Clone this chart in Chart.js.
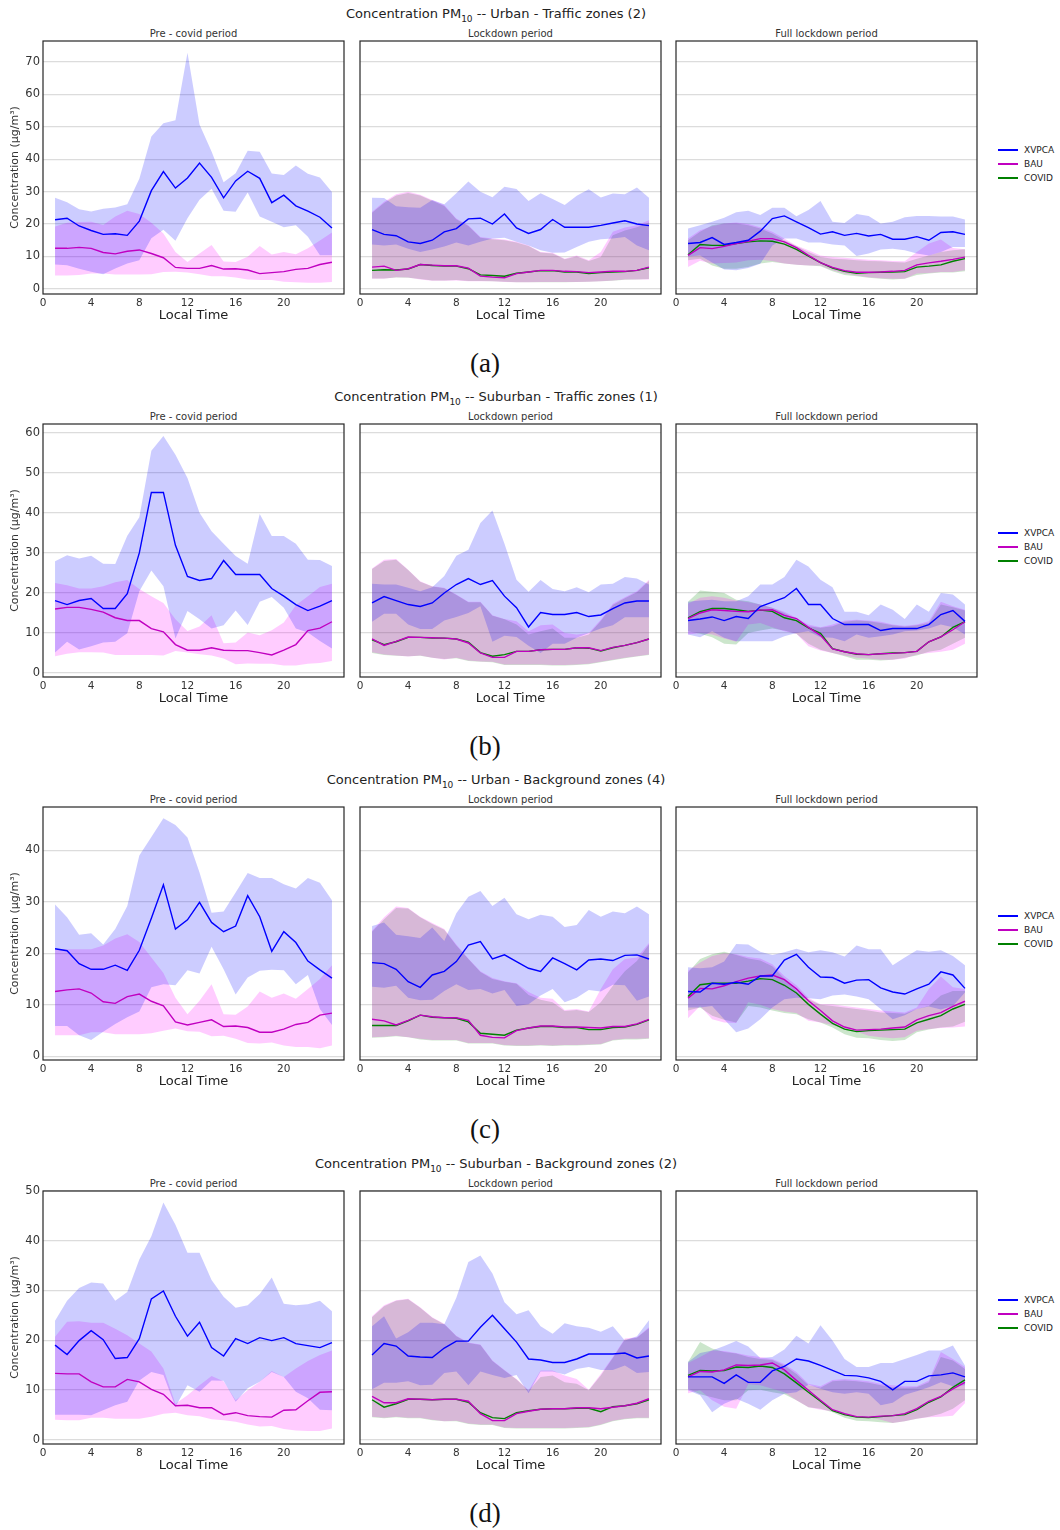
<!DOCTYPE html>
<html>
<head>
<meta charset="utf-8">
<script src="https://cdn.jsdelivr.net/npm/chart.js@4.4.1/dist/chart.umd.min.js"></script>
<style>
  body { margin: 0; background: #fff; font-family: "DejaVu Sans", sans-serif; }
  #fig { position: relative; width: 1060px; height: 1530px; overflow: hidden; background: #fff; }
  #fig canvas { position: absolute; }
  .txt { position: absolute; white-space: nowrap; transform: translate(-50%, -50%); }
  .rowtitle { font-size: 13px; color: #222; }
  .rowtitle sub { font-size: 9px; }
  .subtitle { font-size: 10px; color: #333; }
  .letter { font-family: "Liberation Serif", "DejaVu Serif", serif; font-size: 27px; color: #111; }
  .lg-line { position: absolute; width: 20px; height: 1.5px; }
  .lg-text { position: absolute; font-size: 9px; color: #222; transform: translateY(-50%); }
</style>
</head>
<body>
<div id="fig"></div>
<script>
// hours of the day and axis ticks
const hours = [1,2,3,4,5,6,7,8,9,10,11,12,13,14,15,16,17,18,19,20,21,22,23,24];
const xTicks = [0,4,8,12,16,20];
const yTicksA = [0,10,20,30,40,50,60,70];
const yTicksB = [0,10,20,30,40,50,60];
const yTicksC = [0,10,20,30,40];
const yTicksD = [0,10,20,30,40,50];

// (a) Urban - Traffic zones
const aPre_xvpca    = [21.3,21.8,19.4,18.0,16.8,17.0,16.5,20.9,30.3,36.2,31.1,34.2,38.8,34.4,28.1,33.3,36.3,34.1,26.6,28.9,25.6,24.0,22.1,18.8];
const aPre_xvpcaMax = [28.1,26.7,24.6,23.9,24.7,25.1,26.1,34.0,47.0,51.1,52.0,72.9,50.7,42.4,32.9,35.7,42.6,42.3,35.6,35.1,38.1,35.5,34.4,29.9];
const aPre_xvpcaMin = [7.5,7.3,6.2,5.3,4.5,6.3,7.8,8.8,15.6,18.2,14.8,21.8,27.5,30.9,24.1,23.8,29.7,22.3,20.7,19.0,19.6,16.1,10.4,10.4];
const aPre_bau      = [12.5,12.5,12.8,12.5,11.2,10.8,11.6,12.0,10.9,9.6,6.6,6.3,6.3,7.2,6.1,6.2,5.8,4.7,5.0,5.3,6.0,6.3,7.5,8.2];
const aPre_bauMax   = [19.2,20.4,20.6,20.7,19.7,22.3,24.1,23.1,20.4,17.1,11.4,8.3,10.9,13.5,8.4,8.3,9.9,13.2,10.6,11.4,10.7,12.5,14.9,17.4];
const aPre_bauMin   = [4.1,4.1,4.3,4.7,4.7,4.4,4.4,4.4,4.5,5.2,5.3,5.0,4.5,3.9,3.9,3.5,2.9,2.7,2.7,2.2,2.0,1.9,1.9,2.1];

const aLd_xvpca     = [18.3,16.8,16.4,14.5,14.0,15.0,17.6,18.6,21.6,21.8,20.0,23.1,18.8,17.1,18.3,21.4,19.0,19.0,19.0,19.6,20.3,21.0,20.0,19.5];
const aLd_xvpcaMax  = [28.1,28.0,25.5,25.2,25.0,27.4,26.1,29.5,33.1,30.0,28.3,31.5,30.8,27.1,29.5,27.7,25.9,28.7,30.7,28.2,29.4,29.2,31.3,28.1];
const aLd_xvpcaMin  = [13.7,13.4,13.7,12.4,11.4,12.1,13.1,14.3,13.4,14.5,15.5,15.8,14.5,13.4,11.9,11.1,11.2,12.9,14.5,15.3,15.5,16.0,13.4,11.9];
const aLd_bau       = [6.7,7.0,5.7,6.2,7.5,7.3,7.1,7.1,6.4,3.9,3.6,3.4,4.7,5.2,5.7,5.7,5.4,5.3,5.0,5.2,5.4,5.4,5.7,6.7];
const aLd_bauMax    = [23.8,26.9,29.2,30.0,29.0,27.4,25.9,21.7,19.6,16.0,15.5,15.2,14.5,13.4,11.4,11.1,9.3,10.3,8.8,11.4,17.6,18.9,19.6,21.2];
const aLd_bauMin    = [3.1,3.1,3.6,3.5,2.9,2.5,2.5,2.6,2.3,2.3,2.3,2.1,2.0,2.0,2.1,2.1,2.1,2.1,2.2,2.3,2.6,2.9,2.9,2.9];
const aLd_covid     = [5.7,5.9,5.8,6.1,7.5,7.2,7.0,7.0,6.2,4.3,4.1,3.9,4.8,5.2,5.6,5.6,5.2,5.2,4.7,5.0,5.2,5.3,5.7,6.5];
const aLd_covidMax  = [23.5,26.5,28.8,29.6,28.8,27.2,25.6,21.5,19.4,15.8,15.3,15.0,14.3,13.2,11.2,10.9,9.1,10.0,8.6,9.8,16.5,18.0,19.0,20.5];
const aLd_covidMin  = [3.2,3.2,3.5,3.4,3.0,2.6,2.6,2.7,2.4,2.4,2.3,2.2,2.0,2.0,2.0,2.0,2.0,2.1,2.2,2.3,2.5,2.8,2.9,3.0];

const aFl_xvpca     = [14.0,14.3,15.8,13.7,14.3,15.0,17.8,21.7,22.5,20.7,18.9,16.9,17.6,16.5,17.1,16.3,16.8,15.3,15.3,16.1,15.0,17.4,17.6,16.8];
const aFl_xvpcaMax  = [18.6,19.6,20.7,21.9,23.6,24.1,22.8,25.0,25.0,22.4,24.3,27.1,20.7,20.3,23.1,22.5,20.2,20.7,22.1,22.5,22.5,22.3,22.3,21.4];
const aFl_xvpcaMin  = [10.0,10.3,8.1,6.0,5.7,6.4,7.7,13.4,15.5,15.5,14.3,14.3,13.7,13.4,10.1,10.9,12.1,12.4,11.9,10.9,10.3,11.4,12.9,12.9];
const aFl_bau       = [10.3,12.7,12.4,13.1,14.0,14.7,15.5,15.5,14.5,12.7,10.3,8.1,6.6,5.6,5.1,5.1,5.2,5.4,5.7,7.4,8.0,8.5,9.1,9.8];
const aFl_bauMax    = [15.5,18.1,19.3,20.2,20.5,20.0,19.0,17.6,15.5,13.4,11.9,10.3,9.8,9.6,9.3,9.0,8.8,8.6,8.5,11.4,14.0,15.2,12.6,12.2];
const aFl_bauMin    = [6.7,8.7,7.8,8.0,8.1,8.8,9.0,8.6,7.8,7.4,7.2,7.2,5.7,4.7,4.1,3.6,3.3,3.1,3.1,4.7,4.9,5.2,5.2,5.7];
const aFl_covid     = [10.5,13.7,13.4,13.4,14.0,14.5,14.8,14.7,13.8,12.2,10.1,8.1,6.4,5.4,4.8,5.0,5.1,5.2,5.3,6.7,7.0,7.4,8.5,9.3];
const aFl_covidMax  = [15.0,17.6,19.6,20.2,20.2,19.6,18.6,17.1,15.0,13.2,11.4,9.8,9.3,9.1,8.8,8.6,8.5,8.3,8.1,9.3,10.3,11.4,11.9,12.2];
const aFl_covidMin  = [8.8,9.3,7.2,6.2,6.2,6.7,7.8,8.3,7.8,7.4,7.2,7.0,5.4,4.3,3.9,3.4,3.1,2.9,3.1,4.3,4.7,5.0,5.0,5.4];

// (b) Suburban - Traffic zones
const bPre_xvpca    = [18.1,17.1,18.1,18.6,16.1,16.1,19.8,30.0,45.1,45.1,31.9,24.1,23.1,23.6,28.1,24.6,24.6,24.6,21.1,19.2,17.1,15.6,16.7,18.1];
const bPre_xvpcaMax = [27.9,29.4,28.6,29.3,27.3,27.2,34.3,38.9,55.5,59.2,54.5,48.7,40.0,35.4,32.3,29.2,27.3,39.7,34.2,34.2,32.3,28.3,28.2,26.7];
const bPre_xvpcaMin = [5.1,7.8,5.9,6.7,7.6,7.8,9.9,20.4,25.6,21.7,8.6,15.5,13.4,11.1,11.9,15.6,12.0,17.8,19.0,16.3,11.1,10.1,8.0,6.1];
const bPre_bau      = [16.0,16.4,16.4,15.9,15.2,13.8,13.1,13.1,11.1,10.3,7.1,5.7,5.7,6.3,5.7,5.6,5.6,5.1,4.5,5.7,7.1,10.6,11.2,12.8];
const bPre_bauMax   = [22.5,21.9,21.1,21.1,21.7,22.7,23.2,21.0,19.2,17.5,13.4,10.5,11.6,14.4,7.4,7.6,10.1,9.4,10.7,12.6,16.9,19.2,21.5,22.3];
const bPre_bauMin   = [4.2,4.8,5.2,5.2,5.1,4.5,4.5,4.5,4.5,4.4,5.5,5.1,4.7,4.4,3.6,2.2,2.4,2.3,2.3,1.9,1.9,2.3,2.5,3.0];

const bLd_xvpca     = [17.5,19.1,18.1,17.1,16.6,17.5,20.0,22.1,23.6,22.1,23.1,19.2,16.3,11.5,15.1,14.6,14.6,15.1,14.1,14.5,16.1,17.5,18.0,18.0];
const bLd_xvpcaMax  = [22.3,22.1,22.1,21.3,20.4,21.4,24.2,29.3,30.8,37.5,40.6,32.3,23.3,20.3,23.2,21.0,20.4,21.4,20.2,22.1,22.3,24.0,23.6,22.1];
const bLd_xvpcaMin  = [12.8,14.8,14.8,12.1,11.0,11.0,13.1,14.0,15.0,16.7,7.8,9.3,9.0,6.8,5.0,7.3,7.3,8.8,10.0,11.1,11.9,13.9,13.9,13.9];
const bLd_bau       = [8.5,6.9,7.9,9.0,8.9,8.8,8.7,8.5,7.5,5.0,3.9,3.9,5.4,5.4,5.8,5.9,5.9,6.3,6.3,5.6,6.4,6.9,7.6,8.5];
const bLd_bauMax    = [26.1,28.3,28.5,25.8,22.9,21.7,21.3,19.6,17.8,17.8,14.4,13.5,12.9,10.4,11.9,12.1,10.0,9.6,10.0,13.3,17.3,18.9,20.4,23.3];
const bLd_bauMin    = [5.2,4.6,4.4,4.1,4.4,3.8,3.4,3.8,3.1,2.9,2.8,2.1,2.1,2.1,2.1,2.0,2.0,2.1,2.3,2.8,3.3,3.8,4.2,4.6];
const bLd_covid     = [8.3,7.1,7.8,8.9,8.9,8.7,8.7,8.5,7.7,5.1,4.2,4.6,5.4,5.4,5.8,5.9,5.9,6.3,6.2,5.5,6.3,6.9,7.6,8.5];
const bLd_covidMax  = [26.0,28.0,28.3,25.7,22.8,21.6,21.2,19.5,17.7,17.7,14.3,13.4,12.1,9.6,10.4,11.1,8.8,8.8,9.6,13.0,17.0,18.7,20.2,23.0];
const bLd_covidMin  = [5.0,4.5,4.3,4.2,4.3,3.8,3.5,3.7,3.0,2.8,2.7,2.0,2.0,2.0,2.0,1.9,1.9,2.0,2.2,2.7,3.2,3.7,4.1,4.5];

const bFl_xvpca     = [13.1,13.5,14.0,13.1,14.1,13.6,16.6,17.7,18.8,21.1,17.1,17.1,13.6,12.1,12.1,12.1,10.6,11.1,11.1,11.1,12.1,14.6,15.6,12.9];
const bFl_xvpcaMax  = [17.8,18.1,18.3,17.9,17.9,19.2,22.1,22.1,24.0,28.3,26.6,23.3,21.4,15.3,15.3,14.4,17.1,15.8,13.5,17.1,15.3,20.0,19.6,17.1];
const bFl_xvpcaMin  = [9.6,8.9,10.4,8.8,7.9,7.9,7.9,7.9,9.2,10.0,10.4,8.9,8.8,7.9,9.6,8.8,9.2,9.6,10.4,10.6,11.1,12.1,11.4,9.6];
const bFl_bau       = [13.6,15.0,15.8,15.6,15.4,15.3,15.7,15.8,14.4,13.6,11.4,9.4,6.0,5.3,4.8,4.6,4.8,4.9,5.1,5.4,7.8,9.0,10.8,12.8];
const bFl_bauMax    = [17.3,18.8,19.2,18.8,18.1,17.7,17.1,16.3,15.3,13.8,12.1,11.4,12.1,13.1,13.3,13.1,12.8,12.1,11.8,12.1,12.9,17.8,16.7,15.8];
const bFl_bauMin    = [9.6,10.0,9.6,8.6,7.8,12.1,12.5,11.4,10.4,9.8,6.7,5.6,5.0,4.4,3.8,3.6,3.3,3.3,3.6,4.6,5.0,5.3,5.8,7.3];
const bFl_covid     = [13.8,15.3,16.1,16.1,15.8,15.4,15.7,15.4,13.8,13.1,11.3,9.9,6.1,5.3,4.7,4.6,4.8,5.0,5.1,5.4,7.8,9.0,11.4,12.8];
const bFl_covidMax  = [17.8,20.6,20.3,20.0,18.3,17.9,17.1,16.3,15.0,13.3,11.7,11.3,11.7,12.8,13.1,12.9,12.5,11.9,11.6,11.9,12.5,17.1,16.4,15.6];
const bFl_covidMin  = [10.4,9.8,8.9,7.3,7.1,10.0,10.6,11.1,10.6,9.8,7.3,5.8,5.0,4.2,3.3,3.3,3.1,3.3,3.8,4.4,5.3,5.8,7.3,8.8];

// (c) Urban - Background zones
const cPre_xvpca    = [20.9,20.5,18.0,16.9,16.9,17.7,16.7,20.6,26.8,33.3,24.7,26.5,29.9,26.0,24.2,25.3,31.2,27.1,20.4,24.2,22.1,18.5,16.8,15.2];
const cPre_xvpcaMax = [29.5,27.0,23.6,23.9,21.7,24.7,29.2,39.0,42.6,46.2,44.9,42.5,35.7,27.9,28.1,31.8,35.6,34.6,34.6,33.4,32.6,34.6,33.7,30.3];
const cPre_xvpcaMin = [5.9,5.9,4.1,3.2,4.8,6.3,7.6,8.7,13.4,14.0,13.8,16.7,16.1,21.3,16.9,12.0,15.3,16.6,16.8,16.7,14.0,15.8,9.2,6.1];
const cPre_bau      = [12.6,12.9,13.1,12.3,10.6,10.3,11.6,12.1,10.7,9.8,6.7,6.1,6.6,7.1,5.8,5.9,5.6,4.7,4.7,5.3,6.2,6.6,8.0,8.4];
const cPre_bauMax   = [20.8,20.8,20.8,20.8,21.5,22.9,23.7,22.2,19.2,16.2,11.4,8.2,10.8,14.0,8.2,8.1,9.7,12.6,11.4,12.2,11.2,13.1,15.0,17.7];
const cPre_bauMin   = [4.1,4.1,4.1,4.7,4.7,4.3,4.3,4.3,4.5,5.0,5.4,4.9,4.8,3.9,4.0,3.4,2.6,2.5,2.7,2.1,1.8,1.8,1.6,2.1];

const cLd_xvpca     = [18.2,18.0,16.9,14.5,13.4,15.8,16.5,18.4,21.6,22.3,18.9,19.7,18.4,17.1,16.5,19.1,18.0,16.8,18.7,18.9,18.6,19.6,19.7,18.9];
const cLd_xvpcaMax  = [25.3,26.0,23.6,23.3,23.0,25.0,22.4,27.8,31.0,32.1,29.2,30.8,27.6,26.6,27.5,27.1,25.1,25.5,28.4,27.1,28.1,27.8,29.1,27.6];
const cLd_xvpcaMin  = [13.5,13.3,13.7,11.4,10.9,11.0,12.7,14.0,12.9,13.1,12.2,12.9,9.8,10.1,11.8,13.1,10.5,11.4,12.9,12.6,13.9,13.8,10.8,11.6];
const cLd_bau       = [7.2,6.9,6.1,7.0,8.0,7.7,7.5,7.5,7.0,4.1,3.7,3.6,5.0,5.5,5.9,5.9,5.7,5.7,5.6,5.5,5.8,5.8,6.3,7.2];
const cLd_bauMax    = [24.4,27.0,29.1,28.8,27.1,25.9,24.7,21.7,19.0,16.5,15.2,14.6,14.2,12.5,11.4,11.2,9.0,9.2,8.7,13.1,16.9,18.9,19.2,22.0];
const cLd_bauMin    = [3.7,3.8,4.0,3.7,3.4,3.2,3.2,3.2,2.6,2.6,2.6,2.2,2.1,2.1,2.2,2.1,2.2,2.2,2.3,2.4,3.2,3.4,3.4,3.5];
const cLd_covid     = [6.0,6.0,6.0,6.9,8.0,7.6,7.5,7.4,6.7,4.5,4.3,4.1,5.1,5.5,5.8,5.8,5.6,5.6,5.2,5.2,5.6,5.7,6.2,7.1];
const cLd_covidMax  = [24.2,26.6,28.8,28.7,27.0,25.7,24.6,21.5,18.9,16.4,15.0,14.5,14.1,11.9,11.0,10.5,8.8,9.0,8.6,10.5,13.7,16.5,18.5,21.7];
const cLd_covidMin  = [3.6,3.7,3.9,3.7,3.3,3.1,3.1,3.1,2.5,2.5,2.5,2.1,2.0,2.0,2.1,2.0,2.1,2.1,2.2,2.3,3.1,3.3,3.3,3.4];

const cFl_xvpca     = [12.6,12.5,14.2,14.0,14.4,14.0,15.6,15.6,18.7,19.8,17.3,15.4,15.3,14.2,14.8,14.9,13.3,12.5,12.1,13.1,14.0,16.4,15.8,13.2];
const cFl_xvpcaMax  = [17.3,17.1,17.3,18.4,21.8,21.7,20.3,19.7,20.2,20.9,20.2,20.6,20.2,19.4,21.5,20.8,20.8,17.7,19.2,20.6,20.3,20.6,19.5,17.7];
const cFl_xvpcaMin  = [9.5,9.5,9.8,7.2,4.7,5.4,7.2,9.5,11.1,11.4,11.3,11.1,11.8,12.0,11.6,11.1,9.2,7.2,8.0,9.2,9.7,9.1,9.8,12.4];
const cFl_bau       = [11.3,13.2,13.1,13.7,14.5,15.2,15.6,15.8,14.9,13.1,10.8,8.9,6.9,5.7,5.1,5.2,5.3,5.5,5.7,7.1,7.9,8.5,9.7,10.7];
const cFl_bauMax    = [16.6,18.2,19.5,20.0,19.8,19.3,19.0,17.9,15.6,13.8,11.4,10.1,10.1,9.8,9.5,9.2,8.9,8.7,8.5,9.5,13.1,15.5,13.4,13.1];
const cFl_bauMin    = [7.4,9.8,7.2,6.6,6.5,10.5,10.0,9.2,8.7,8.4,6.9,6.6,6.1,5.4,4.8,4.0,3.7,3.5,3.7,5.0,5.3,5.5,5.6,5.8];
const cFl_covid     = [11.6,13.9,14.2,14.2,14.2,14.6,15.1,14.9,13.8,12.3,10.1,8.2,6.4,5.3,4.8,5.0,5.1,5.2,5.3,6.5,7.2,7.9,9.2,10.1];
const cFl_covidMax  = [16.3,18.9,19.8,20.3,19.7,19.0,18.6,17.5,15.1,12.7,11.1,10.0,9.8,9.5,9.2,8.9,8.5,8.4,8.3,9.2,9.8,11.8,12.7,12.7];
const cFl_covidMin  = [8.9,9.5,7.9,7.1,6.6,9.8,9.5,8.9,8.4,8.2,7.2,6.6,5.6,4.3,3.6,3.5,3.2,3.0,3.2,4.7,5.2,5.6,5.8,6.7];

// (d) Suburban - Background zones
const dPre_xvpca    = [19.0,17.1,19.9,21.9,20.1,16.3,16.5,20.3,28.3,29.9,24.8,20.8,23.6,18.5,16.8,20.3,19.3,20.5,19.9,20.5,19.3,18.9,18.5,19.5];
const dPre_xvpcaMax = [23.9,27.9,30.5,31.6,31.4,27.9,29.7,36.2,40.9,47.7,43.2,37.6,37.6,32.1,28.7,26.5,27.0,29.3,32.6,27.3,27.0,27.2,27.9,25.8];
const dPre_xvpcaMin = [5.0,5.0,5.0,4.9,5.9,6.9,7.6,11.9,13.6,13.0,6.6,10.9,9.6,11.9,11.8,7.6,10.3,11.6,13.6,12.6,9.6,8.3,6.0,5.9];
const dPre_bau      = [13.3,13.2,13.2,11.6,10.6,10.6,12.1,11.6,10.1,9.1,6.8,6.9,6.4,6.4,5.0,5.4,4.8,4.6,4.5,5.9,6.0,7.8,9.5,9.6];
const dPre_bauMax   = [20.7,23.7,23.8,23.5,23.5,22.3,21.0,19.3,17.7,14.3,7.2,8.9,10.9,12.8,11.7,7.9,9.9,11.6,13.8,12.6,14.3,15.8,17.0,17.9];
const dPre_bauMin   = [4.0,3.9,3.9,4.4,4.4,4.2,4.2,4.2,4.6,5.2,5.4,4.9,4.7,4.1,3.9,3.6,3.0,2.6,2.7,2.1,1.8,1.7,1.7,2.2];

const dLd_xvpca     = [17.0,19.3,18.8,16.8,16.6,16.5,18.4,19.8,19.8,22.6,25.0,22.3,19.6,16.2,16.0,15.5,15.5,16.2,17.2,17.2,17.2,17.4,16.4,16.8];
const dLd_xvpcaMax  = [22.8,24.8,20.3,21.6,23.5,23.5,23.2,28.5,35.7,37.0,33.4,27.6,25.2,26.0,22.8,21.3,23.4,22.8,22.5,21.7,22.8,19.9,20.8,24.0];
const dLd_xvpcaMin  = [10.1,11.4,11.4,11.7,10.9,11.0,13.4,13.7,10.9,13.7,13.0,12.4,13.0,9.3,13.7,13.7,13.1,14.2,14.6,14.0,14.0,14.9,13.4,13.6];
const dLd_bau       = [8.7,7.4,7.4,8.2,8.1,8.0,8.1,8.1,7.7,5.2,3.8,3.8,5.2,5.7,6.1,6.2,6.2,6.4,6.4,6.2,6.5,6.8,7.3,8.2];
const dLd_bauMax    = [24.8,27.0,28.0,28.3,26.6,24.6,23.3,20.9,19.5,19.1,15.9,14.0,12.2,9.9,13.9,13.9,12.9,12.2,10.0,13.2,16.6,20.3,20.6,22.6];
const dLd_bauMin    = [4.6,4.4,4.6,4.4,4.4,4.0,3.7,3.8,3.2,3.0,3.0,2.4,2.3,2.3,2.3,2.3,2.3,2.4,2.5,3.0,3.8,4.2,4.4,4.4];
const dLd_covid     = [8.0,6.5,7.2,8.1,8.1,8.0,8.1,8.1,7.5,5.4,4.4,4.2,5.4,5.8,6.1,6.2,6.2,6.3,6.3,5.6,6.6,6.8,7.2,8.0];
const dLd_covidMax  = [24.6,26.8,27.9,28.2,26.5,24.5,23.2,20.8,19.4,19.0,15.8,13.9,12.1,9.8,12.6,12.9,11.5,11.2,9.9,12.9,16.4,20.1,20.5,22.4];
const dLd_covidMin  = [4.5,4.3,4.5,4.3,4.3,3.9,3.7,3.7,3.1,2.9,2.9,2.3,2.2,2.2,2.2,2.2,2.2,2.3,2.4,2.9,3.7,4.1,4.3,4.3];

const dFl_xvpca     = [12.6,12.6,12.6,11.3,13.0,11.5,11.5,13.8,14.7,16.2,15.8,14.9,13.9,12.9,12.8,12.4,11.7,10.0,11.7,11.7,12.8,13.0,13.4,12.6];
const dFl_xvpcaMax  = [15.6,17.4,17.9,18.8,19.8,18.7,16.4,16.6,18.1,20.9,19.3,23.0,19.9,16.2,14.6,14.6,15.4,15.4,16.2,17.0,17.9,17.9,18.9,14.9];
const dFl_xvpcaMin  = [9.9,8.9,5.5,7.2,8.2,7.2,6.0,7.9,9.2,9.5,11.0,10.2,9.5,9.2,9.5,9.2,6.9,7.4,9.0,9.7,10.5,11.5,10.7,10.9];
const dFl_bau       = [12.6,13.7,13.6,14.0,15.0,14.9,15.0,15.4,14.0,11.9,9.9,7.9,6.0,5.2,4.6,4.5,4.7,4.8,5.2,6.2,7.7,8.7,10.2,11.5];
const dFl_bauMax    = [15.4,16.6,17.9,17.8,17.4,16.9,16.6,16.2,15.2,13.6,11.2,10.7,12.0,12.2,12.0,11.7,11.2,10.9,10.7,10.7,11.9,17.6,16.2,14.6];
const dFl_bauMin    = [9.3,9.9,7.9,6.6,6.2,11.1,10.9,10.2,9.5,7.9,6.5,6.0,5.7,4.8,4.6,4.5,4.0,3.3,3.7,4.2,4.5,4.6,4.8,7.3];
const dFl_covid     = [12.9,13.9,13.8,13.9,14.6,14.5,14.8,14.5,13.2,11.4,9.5,7.7,5.8,5.0,4.5,4.4,4.6,4.8,5.0,6.0,7.5,8.6,10.5,12.0];
const dFl_covidMax  = [15.6,19.6,18.3,17.6,17.3,16.6,16.2,16.0,14.9,13.2,10.9,10.4,11.7,11.9,11.7,11.4,10.9,10.5,10.4,10.5,11.5,16.6,15.9,14.2];
const dFl_covidMin  = [10.2,9.1,8.5,7.9,7.9,9.9,10.0,9.5,9.1,7.9,6.5,6.2,5.5,4.4,3.8,3.7,3.5,3.3,3.7,4.2,4.6,5.2,6.2,7.9];

const periods = ['Pre - covid period', 'Lockdown period', 'Full lockdown period'];
const FONT = '"DejaVu Sans", sans-serif';

const style = {
  XVPCA: { line: '#0000ff', band: 'rgba(0,0,255,0.2)' },
  BAU:   { line: '#c000c0', band: 'rgba(255,0,255,0.2)' },
  COVID: { line: '#008000', band: 'rgba(0,128,0,0.2)' }
};

function ser(name, mean, min, max) { return { name, mean, min, max }; }

const rows = [
  { title: 'Urban - Traffic zones (2)', letter: '(a)', ticks: yTicksA, range: [-1.6, 76.5], panels: [
    [ser('XVPCA', aPre_xvpca, aPre_xvpcaMin, aPre_xvpcaMax), ser('BAU', aPre_bau, aPre_bauMin, aPre_bauMax)],
    [ser('XVPCA', aLd_xvpca, aLd_xvpcaMin, aLd_xvpcaMax), ser('BAU', aLd_bau, aLd_bauMin, aLd_bauMax), ser('COVID', aLd_covid, aLd_covidMin, aLd_covidMax)],
    [ser('XVPCA', aFl_xvpca, aFl_xvpcaMin, aFl_xvpcaMax), ser('BAU', aFl_bau, aFl_bauMin, aFl_bauMax), ser('COVID', aFl_covid, aFl_covidMin, aFl_covidMax)]
  ]},
  { title: 'Suburban - Traffic zones (1)', letter: '(b)', ticks: yTicksB, range: [-1.0, 62.2], panels: [
    [ser('XVPCA', bPre_xvpca, bPre_xvpcaMin, bPre_xvpcaMax), ser('BAU', bPre_bau, bPre_bauMin, bPre_bauMax)],
    [ser('XVPCA', bLd_xvpca, bLd_xvpcaMin, bLd_xvpcaMax), ser('BAU', bLd_bau, bLd_bauMin, bLd_bauMax), ser('COVID', bLd_covid, bLd_covidMin, bLd_covidMax)],
    [ser('XVPCA', bFl_xvpca, bFl_xvpcaMin, bFl_xvpcaMax), ser('BAU', bFl_bau, bFl_bauMin, bFl_bauMax), ser('COVID', bFl_covid, bFl_covidMin, bFl_covidMax)]
  ]},
  { title: 'Urban - Background zones (4)', letter: '(c)', ticks: yTicksC, range: [-0.7, 48.4], panels: [
    [ser('XVPCA', cPre_xvpca, cPre_xvpcaMin, cPre_xvpcaMax), ser('BAU', cPre_bau, cPre_bauMin, cPre_bauMax)],
    [ser('XVPCA', cLd_xvpca, cLd_xvpcaMin, cLd_xvpcaMax), ser('BAU', cLd_bau, cLd_bauMin, cLd_bauMax), ser('COVID', cLd_covid, cLd_covidMin, cLd_covidMax)],
    [ser('XVPCA', cFl_xvpca, cFl_xvpcaMin, cFl_xvpcaMax), ser('BAU', cFl_bau, cFl_bauMin, cFl_bauMax), ser('COVID', cFl_covid, cFl_covidMin, cFl_covidMax)]
  ]},
  { title: 'Suburban - Background zones (2)', letter: '(d)', ticks: yTicksD, range: [-0.9, 50.0], panels: [
    [ser('XVPCA', dPre_xvpca, dPre_xvpcaMin, dPre_xvpcaMax), ser('BAU', dPre_bau, dPre_bauMin, dPre_bauMax)],
    [ser('XVPCA', dLd_xvpca, dLd_xvpcaMin, dLd_xvpcaMax), ser('BAU', dLd_bau, dLd_bauMin, dLd_bauMax), ser('COVID', dLd_covid, dLd_covidMin, dLd_covidMax)],
    [ser('XVPCA', dFl_xvpca, dFl_xvpcaMin, dFl_xvpcaMax), ser('BAU', dFl_bau, dFl_bauMin, dFl_bauMax), ser('COVID', dFl_covid, dFl_covidMin, dFl_covidMax)]
  ]}
];

// figure layout
const rowTop = [41, 424, 807, 1191];
const colLeft = [43, 360, 676];
const plotW = 301, plotH = 253;
const padT = 10;
const fig = document.getElementById('fig');

function addText(cls, html, x, y) {
  const d = document.createElement('div');
  d.className = 'txt ' + cls;
  d.innerHTML = html;
  d.style.left = x + 'px';
  d.style.top = y + 'px';
  fig.appendChild(d);
}

function pts(arr) { return hours.map((h, i) => ({ x: h, y: arr[i] })); }

// axes frame like matplotlib spines
const framePlugin = {
  id: 'frame',
  afterDraw(chart) {
    const a = chart.chartArea, ctx = chart.ctx;
    ctx.save();
    ctx.strokeStyle = '#262626';
    ctx.lineWidth = 1.2;
    ctx.strokeRect(a.left, a.top, a.right - a.left, a.bottom - a.top);
    ctx.restore();
  }
};

function buildDatasets(series) {
  const ds = [];
  series.forEach(s => {
    ds.push({ label: s.name, data: pts(s.mean), borderColor: style[s.name].line, borderWidth: 1.4,
              pointRadius: 0, fill: false, order: 0 });
  });
  series.forEach(s => {
    const iMin = ds.length;
    ds.push({ data: pts(s.min), borderWidth: 0, borderColor: 'transparent', pointRadius: 0, fill: false, order: 1 });
    ds.push({ data: pts(s.max), borderWidth: 0, borderColor: 'transparent', pointRadius: 0,
              backgroundColor: style[s.name].band, fill: iMin, order: 1 });
  });
  return ds;
}

rows.forEach((row, r) => {
  const T = rowTop[r];
  addText('rowtitle', 'Concentration PM<sub>10</sub> -- ' + row.title, 496, T - 26);
  addText('letter', row.letter, 485, T + 322);

  // legend on the right
  ['XVPCA', 'BAU', 'COVID'].forEach((name, i) => {
    const y = T + 109 + 14 * i;
    const ln = document.createElement('div');
    ln.className = 'lg-line';
    ln.style.left = '998px';
    ln.style.top = (y - 0.75) + 'px';
    ln.style.background = style[name].line;
    fig.appendChild(ln);
    const tx = document.createElement('div');
    tx.className = 'lg-text';
    tx.textContent = name;
    tx.style.left = '1024px';
    tx.style.top = y + 'px';
    fig.appendChild(tx);
  });

  row.panels.forEach((series, c) => {
    const L = colLeft[c];
    addText('subtitle', periods[c], L + plotW / 2, T - 8);
    const padL = c === 0 ? 43 : 5;
    const cv = document.createElement('canvas');
    cv.width = padL + plotW + 5;
    cv.height = padT + plotH + 32;
    cv.style.left = (L - padL) + 'px';
    cv.style.top = (T - padT) + 'px';
    fig.appendChild(cv);

    new Chart(cv, {
      type: 'line',
      data: { datasets: buildDatasets(series) },
      options: {
        responsive: false,
        animation: false,
        layout: { padding: { top: padT, right: 5, left: c === 0 ? 0 : 5, bottom: 0 } },
        plugins: {
          legend: { display: false },
          tooltip: { enabled: false },
          filler: { drawTime: 'beforeDatasetsDraw' }
        },
        scales: {
          x: {
            type: 'linear', min: 0, max: 25,
            grid: { display: false, drawTicks: false },
            border: { display: false },
            afterBuildTicks: s => { s.ticks = xTicks.map(v => ({ value: v })); },
            afterFit: s => { s.height = 32; s.paddingLeft = 0; s.paddingRight = 0; },
            ticks: { color: '#333', font: { size: 10.5, family: FONT }, padding: 3, maxRotation: 0, autoSkip: false },
            title: { display: true, text: 'Local Time', color: '#222', font: { size: 13, family: FONT }, padding: { top: 0, bottom: 3 } }
          },
          y: {
            min: row.range[0], max: row.range[1],
            grid: { color: '#dcdcdc', lineWidth: 1.2, drawTicks: false },
            border: { display: false },
            afterBuildTicks: s => { s.ticks = row.ticks.map(v => ({ value: v })); },
            afterFit: s => { s.width = c === 0 ? 43 : 0; s.paddingTop = 0; s.paddingBottom = 0; },
            ticks: { display: c === 0, color: '#333', font: { size: 11.5, family: FONT }, padding: 3 },
            title: { display: c === 0, text: 'Concentration (μg/m³)', color: '#333', font: { size: 11, family: FONT }, padding: { top: 9, bottom: 0 } }
          }
        }
      },
      plugins: [framePlugin]
    });
  });
});
</script>
</body>
</html>
